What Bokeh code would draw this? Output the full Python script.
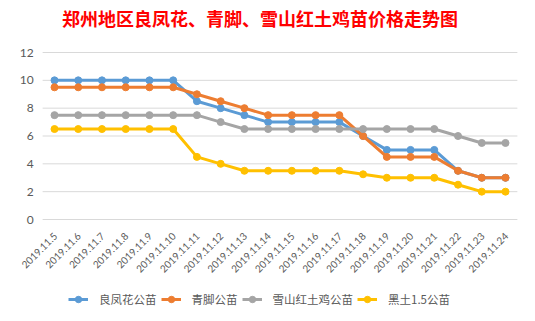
import math
from bokeh.plotting import figure
from bokeh.models import Range1d, Legend, LegendItem, Label
from bokeh.core.properties import value
from bokeh.embed import file_html
from bokeh.resources import INLINE

dates = ["2019.11.5", "2019.11.6", "2019.11.7", "2019.11.8", "2019.11.9", "2019.11.10",
         "2019.11.11", "2019.11.12", "2019.11.13", "2019.11.14", "2019.11.15", "2019.11.16",
         "2019.11.17", "2019.11.18", "2019.11.19", "2019.11.20", "2019.11.21", "2019.11.22",
         "2019.11.23", "2019.11.24"]
liangfenghua = [10, 10, 10, 10, 10, 10, 8.5, 8, 7.5, 7, 7, 7, 7, 6, 5, 5, 5, 3.5, 3, 3]
qingjiao = [9.5, 9.5, 9.5, 9.5, 9.5, 9.5, 9, 8.5, 8, 7.5, 7.5, 7.5, 7.5, 6, 4.5, 4.5, 4.5, 3.5, 3, 3]
xueshan = [7.5, 7.5, 7.5, 7.5, 7.5, 7.5, 7.5, 7, 6.5, 6.5, 6.5, 6.5, 6.5, 6.5, 6.5, 6.5, 6.5, 6, 5.5, 5.5]
heitu = [6.5, 6.5, 6.5, 6.5, 6.5, 6.5, 4.5, 4, 3.5, 3.5, 3.5, 3.5, 3.5, 3.25, 3, 3, 3, 2.5, 2, 2]
series_names = ["良凤花公苗", "青脚公苗", "雪山红土鸡公苗", "黑土1.5公苗"]
series_values = [liangfenghua, qingjiao, xueshan, heitu]
colors = ["#5B9BD5", "#ED7D31", "#A5A5A5", "#FFC000"]
y_ticks = [0, 2, 4, 6, 8, 10, 12]
y_tick_labels = ["0", "2", "4", "6", "8", "10", "12"]
title_text = "郑州地区良凤花、青脚、雪山红土鸡苗价格走势图"

W, H = 535, 321
# layout (pixels): plot area of the original chart
first_cat_px, last_cat_px = 54, 505
frame_top_px, frame_bottom_px = 52, 219   # rows of the 12 and 0 gridlines

idx = list(range(len(dates)))
step = (last_cat_px - first_cat_px) / (len(dates) - 1)
x_start = idx[0] - first_cat_px / step
x_end = x_start + W / step
per_px = (y_ticks[-1] - y_ticks[0]) / (frame_bottom_px - frame_top_px)
y_start = y_ticks[0] - (H - frame_bottom_px) * per_px
y_end = y_ticks[-1] + frame_top_px * per_px

p = figure(width=W, height=H, x_range=Range1d(x_start, x_end), y_range=Range1d(y_start, y_end),
           output_backend="svg", toolbar_location=None,
           x_axis_location=None, y_axis_location=None, min_border=0)
p.title = None
p.outline_line_color = None
p.background_fill_color = "white"
p.border_fill_color = "white"
p.grid.visible = False

# horizontal gridlines across the category band
p.segment(x0=[idx[0] - 0.5] * len(y_ticks), x1=[idx[-1] + 0.5] * len(y_ticks),
          y0=y_ticks, y1=y_ticks, line_color="#D9D9D9", line_width=1)

# value axis labels
p.text(x=[idx[0] - 0.5] * len(y_ticks), y=y_ticks, text=y_tick_labels,
       text_align="right", text_baseline="middle", x_offset=-9,
       text_font=value("Lato"), text_font_size="12px", text_color="#595959")

# category labels along the zero line (rotated 45 degrees)
p.text(x=idx, y=[y_ticks[0]] * len(dates), text=dates, angle=math.pi / 4,
       text_align="right", text_baseline="middle", x_offset=1, y_offset=15,
       text_font=value("Lato"), text_font_size="10px", text_color="#595959")

items = []
for name, vals, c in zip(series_names, series_values, colors):
    r1 = p.line(idx, vals, line_color=c, line_width=3)
    r2 = p.scatter(idx, vals, size=7, fill_color=c, line_color=c)
    items.append(LegendItem(label=name, renderers=[r1, r2]))

legend = Legend(items=items, orientation="horizontal", location=(68, 14),
                label_text_font="Noto Sans CJK SC", label_text_font_size="11.5px",
                label_text_color="#595959", glyph_width=20, glyph_height=16,
                label_standoff=11, spacing=4, padding=0, margin=0,
                border_line_color=None, background_fill_alpha=0)
p.add_layout(legend, "center")

title = Label(x=259.5, y=H - 17, x_units="screen", y_units="screen", text=title_text,
              text_align="center", text_baseline="middle", text_color="#FF0000",
              text_font="Noto Sans CJK SC", text_font_size="18px", text_font_style="bold")
p.add_layout(title)

open("out.html", "w").write(file_html(p, INLINE))
